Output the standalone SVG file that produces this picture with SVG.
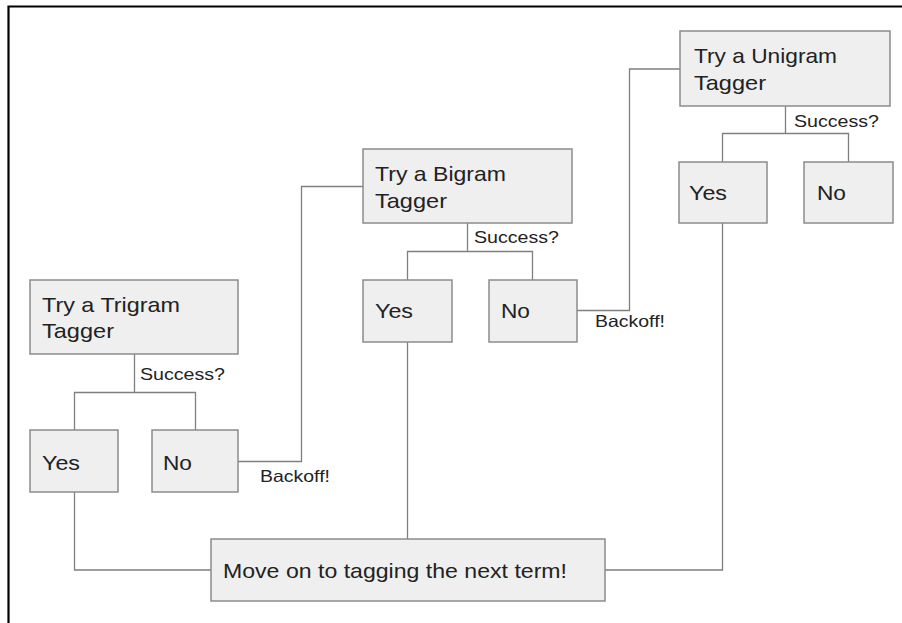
<svg xmlns="http://www.w3.org/2000/svg" width="902" height="623" viewBox="0 0 902 623">
<style>
.box{fill:#efefef;stroke:#8c8c8c;stroke-width:1.5}
.ln{fill:none;stroke:#7f7f7f;stroke-width:1.3}
.t{font-family:"Liberation Sans",Arial,sans-serif;font-size:21px;fill:#222}
.s{font-family:"Liberation Sans",Arial,sans-serif;font-size:16.5px;fill:#222}
.frame{fill:none;stroke:#000;stroke-width:2.2}
</style>
<rect width="902" height="623" fill="#fff"/>
<path class="frame" d="M8.5,623 V6.5 H902"/>
<g id="connectors">
<path class="ln" d="M134.5,354 V392.5 M74.5,430 V392.5 H195.5 V430"/>
<path class="ln" d="M238,461.5 H301.5 V186.5 H363"/>
<path class="ln" d="M467.5,223 V251.5 M407.5,280 V251.5 H532.5 V280"/>
<path class="ln" d="M577,310.5 H629.5 V69 H680"/>
<path class="ln" d="M785.5,106 V133.5 M722.5,162 V133.5 H848.5 V162"/>
<path class="ln" d="M74.5,492 V570 H211"/>
<path class="ln" d="M407.5,342 V539"/>
<path class="ln" d="M722.5,223 V570 H605"/>
<text class="s" x="140" y="380" textLength="85" lengthAdjust="spacingAndGlyphs">Success?</text>
<text class="s" x="474" y="243" textLength="85" lengthAdjust="spacingAndGlyphs">Success?</text>
<text class="s" x="794" y="127" textLength="85" lengthAdjust="spacingAndGlyphs">Success?</text>
<text class="s" x="260" y="482" textLength="70" lengthAdjust="spacingAndGlyphs">Backoff!</text>
<text class="s" x="595" y="327" textLength="70" lengthAdjust="spacingAndGlyphs">Backoff!</text>
</g>
<g id="trigram">
<rect class="box" x="30" y="280" width="208" height="74"/>
<text class="t" x="42" y="312" textLength="138" lengthAdjust="spacingAndGlyphs">Try a Trigram</text>
<text class="t" x="42" y="338" textLength="72" lengthAdjust="spacingAndGlyphs">Tagger</text>
</g>
<g id="trigram-yes">
<rect class="box" x="30" y="430" width="88" height="62"/>
<text class="t" x="42" y="470" textLength="38" lengthAdjust="spacingAndGlyphs">Yes</text>
</g>
<g id="trigram-no">
<rect class="box" x="152" y="430" width="86" height="62"/>
<text class="t" x="163" y="470" textLength="29" lengthAdjust="spacingAndGlyphs">No</text>
</g>
<g id="bigram">
<rect class="box" x="363" y="149" width="209" height="74"/>
<text class="t" x="375" y="181" textLength="131" lengthAdjust="spacingAndGlyphs">Try a Bigram</text>
<text class="t" x="375" y="208" textLength="72" lengthAdjust="spacingAndGlyphs">Tagger</text>
</g>
<g id="bigram-yes">
<rect class="box" x="363" y="280" width="89" height="62"/>
<text class="t" x="375" y="318" textLength="38" lengthAdjust="spacingAndGlyphs">Yes</text>
</g>
<g id="bigram-no">
<rect class="box" x="489" y="280" width="88" height="62"/>
<text class="t" x="501" y="318" textLength="29" lengthAdjust="spacingAndGlyphs">No</text>
</g>
<g id="unigram">
<rect class="box" x="680" y="31" width="210" height="75"/>
<text class="t" x="694" y="63" textLength="143" lengthAdjust="spacingAndGlyphs">Try a Unigram</text>
<text class="t" x="694" y="90" textLength="72" lengthAdjust="spacingAndGlyphs">Tagger</text>
</g>
<g id="unigram-yes">
<rect class="box" x="679" y="162" width="88" height="61"/>
<text class="t" x="689" y="200" textLength="38" lengthAdjust="spacingAndGlyphs">Yes</text>
</g>
<g id="unigram-no">
<rect class="box" x="804" y="162" width="89" height="61"/>
<text class="t" x="817" y="200" textLength="29" lengthAdjust="spacingAndGlyphs">No</text>
</g>
<g id="move-on">
<rect class="box" x="211" y="539" width="394" height="62"/>
<text class="t" x="223" y="578" textLength="344" lengthAdjust="spacingAndGlyphs">Move on to tagging the next term!</text>
</g>
</svg>
